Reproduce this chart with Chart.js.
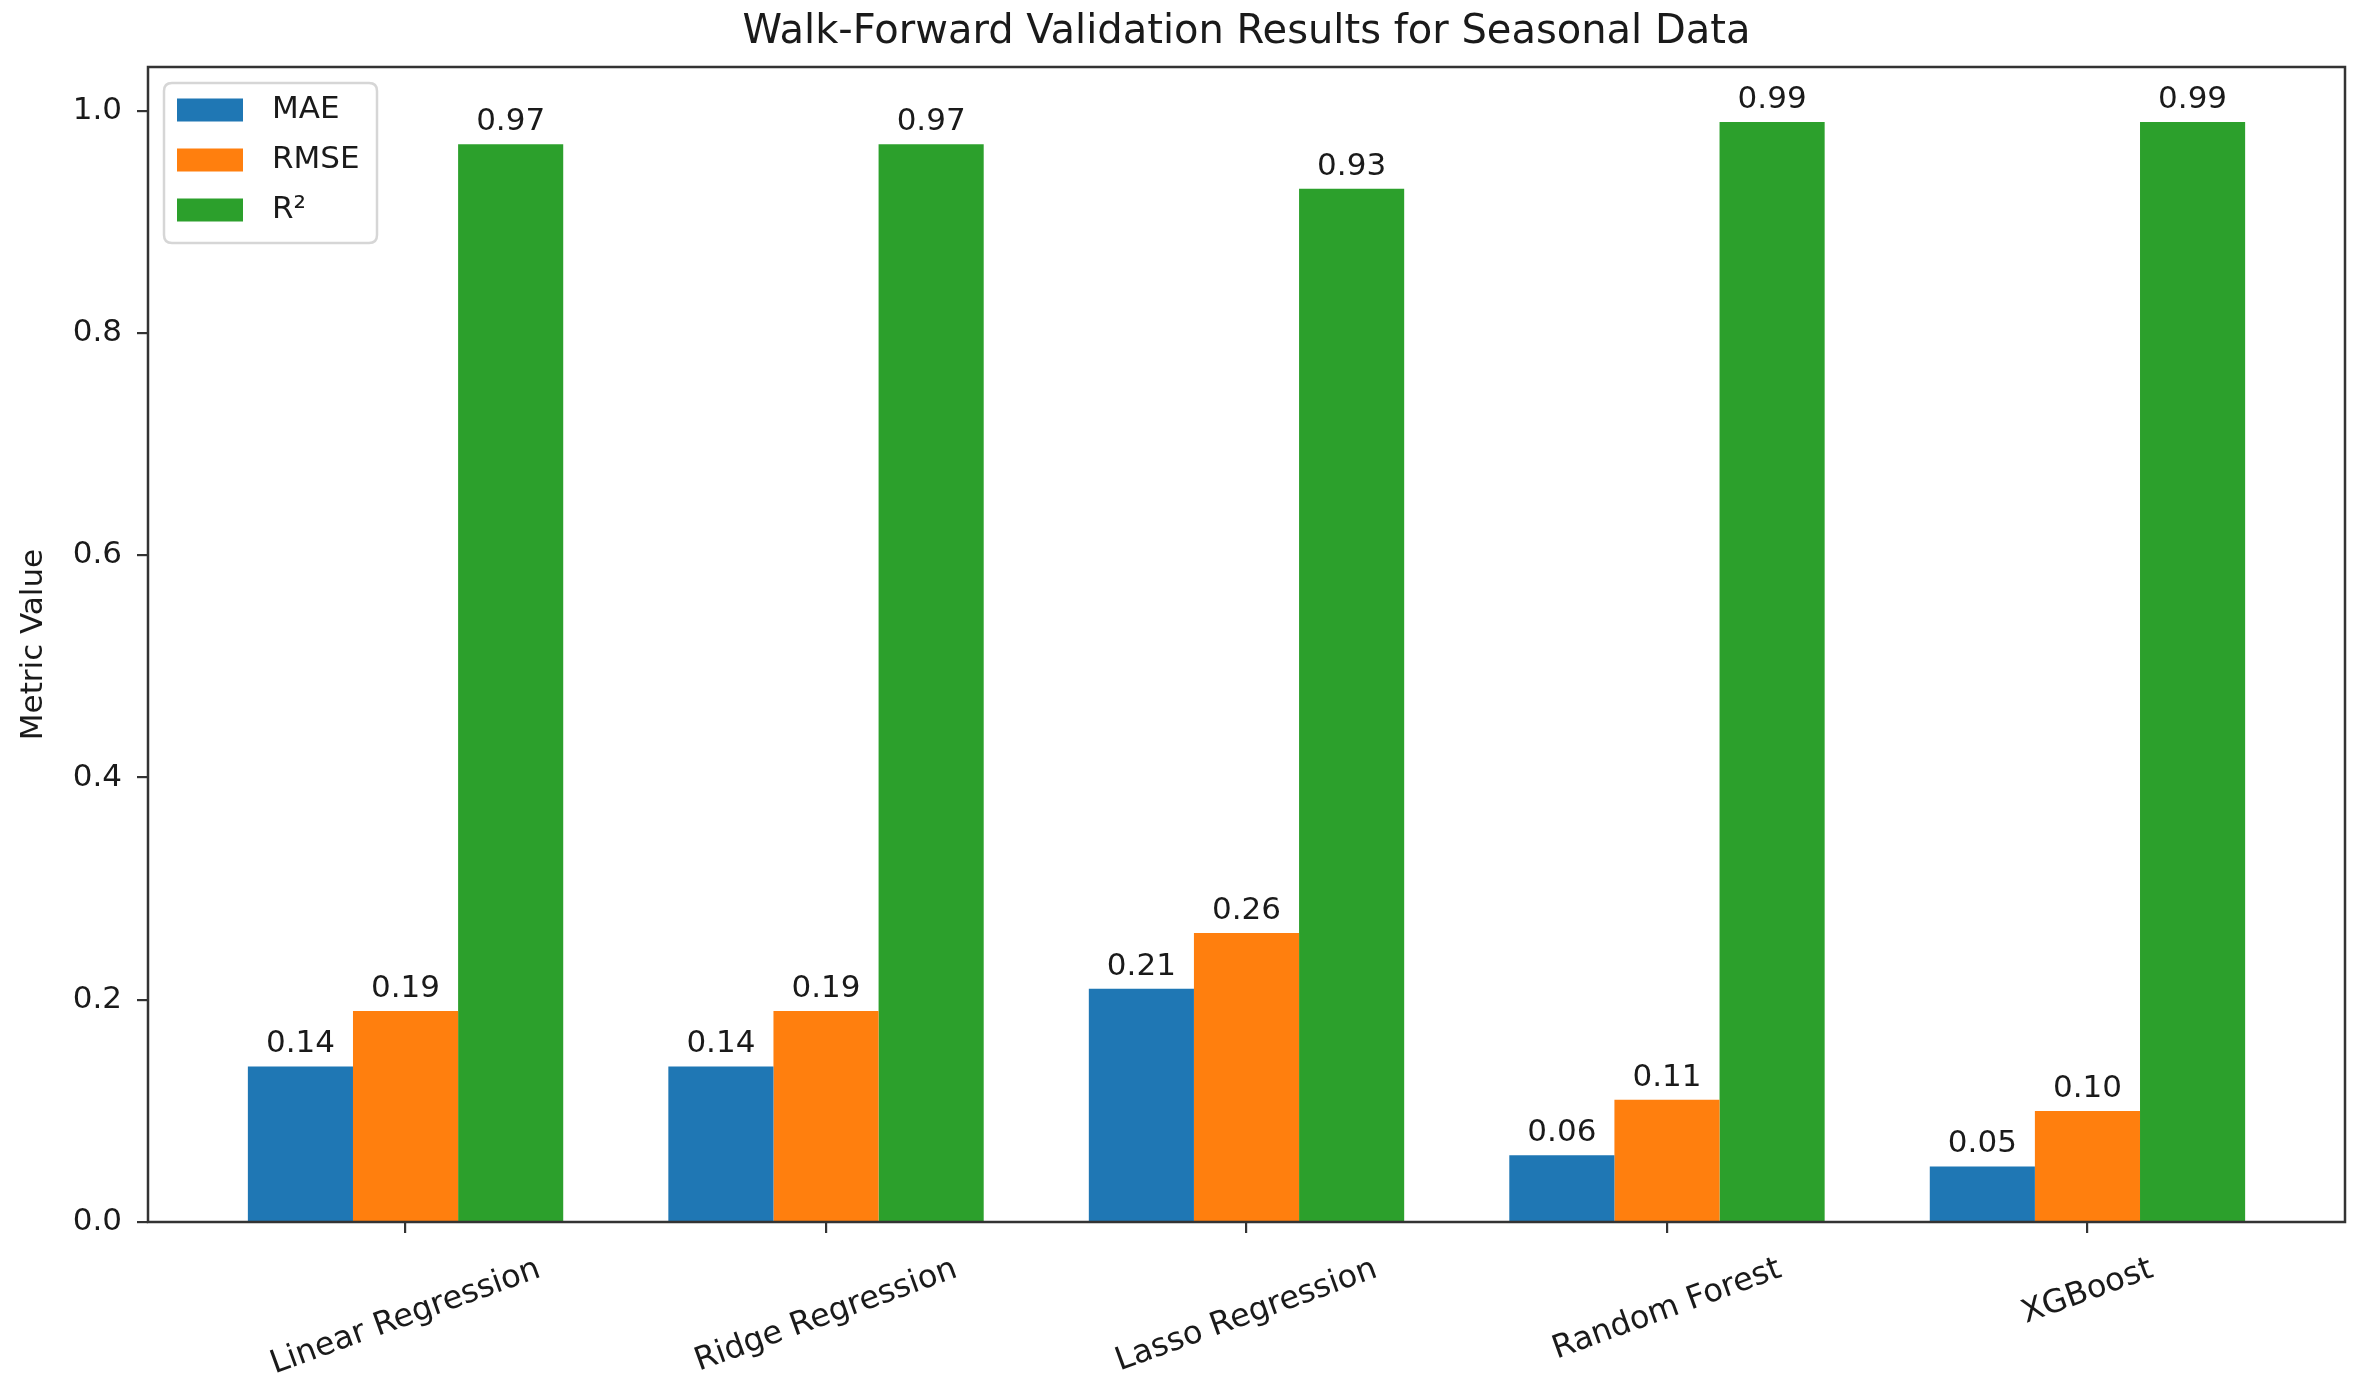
<!DOCTYPE html>
<html>
<head>
<meta charset="utf-8">
<script src="https://cdn.jsdelivr.net/npm/chart.js@4/dist/chart.umd.min.js"></script>
<style>
  html, body { margin: 0; padding: 0; background: #ffffff; }
  #wrap { width: 2375px; height: 1392px; position: relative; }
</style>
</head>
<body>
<div id="wrap"><canvas id="c"></canvas></div>
<script>
// ---- data ----
const categories = ['Linear Regression', 'Ridge Regression', 'Lasso Regression', 'Random Forest', 'XGBoost'];
const seriesNames = ['MAE', 'RMSE', 'R²'];
const maeValues  = [0.14, 0.14, 0.21, 0.06, 0.05];
const rmseValues = [0.19, 0.19, 0.26, 0.11, 0.10];
const r2Values   = [0.97, 0.97, 0.93, 0.99, 0.99];
const yTickValues = [0.0, 0.2, 0.4, 0.6, 0.8, 1.0];

// ---- styles ----
const colors = ['#1f77b4', '#ff7f0e', '#2ca02c'];
const FONT = 'DejaVu Sans';
const TXT = '#1a1a1a';
const AX = '#333333';

// matplotlib-like autoscale limits
const groupHalf = 0.375;
const xSpan = (categories.length - 1) + 2 * groupHalf;
const xMargin = 0.05 * xSpan;
const xMin = -groupHalf - xMargin;
const xMax = (categories.length - 1) + groupHalf + xMargin;
const yMax = Math.max(...maeValues, ...rmseValues, ...r2Values) * 1.05;

const toPoints = arr => arr.map((v, i) => ({ x: i, y: v }));

const valueLabels = {
  id: 'valueLabels',
  afterDatasetsDraw(chart) {
    const ctx = chart.ctx;
    ctx.save();
    ctx.font = `31px "${FONT}"`;
    ctx.fillStyle = TXT;
    ctx.textAlign = 'center';
    ctx.textBaseline = 'alphabetic';
    chart.data.datasets.forEach((ds, di) => {
      const meta = chart.getDatasetMeta(di);
      meta.data.forEach((el, i) => {
        ctx.fillText(ds.data[i].y.toFixed(2), el.x, el.y - 14);
      });
    });
    ctx.restore();
  }
};

const frameAndLabels = {
  id: 'frameAndLabels',
  afterDraw(chart) {
    const ctx = chart.ctx;
    const a = chart.chartArea;
    ctx.save();
    // spines
    ctx.strokeStyle = AX;
    ctx.lineWidth = 2.5;
    ctx.strokeRect(a.left, a.top, a.right - a.left, a.bottom - a.top);

    // rotated category labels (centered like matplotlib, rotation 20deg)
    const xs = chart.scales.x;
    const rot = 20 * Math.PI / 180;
    ctx.font = `32px "${FONT}"`;
    ctx.fillStyle = TXT;
    ctx.textAlign = 'center';
    ctx.textBaseline = 'middle';
    categories.forEach((lab, i) => {
      const px = xs.getPixelForValue(i);
      const w = ctx.measureText(lab).width;
      const h = 32 * 1.16;
      const bboxH = w * Math.sin(rot) + h * Math.cos(rot);
      const cy = a.bottom + 29 + bboxH / 2;
      ctx.save();
      ctx.translate(px, cy);
      ctx.rotate(-rot);
      ctx.fillText(lab, 0, 0);
      ctx.restore();
    });

    // legend (upper left inside axes)
    const lx = a.left + 16, ly = a.top + 16, lw = 213, lh = 160, r = 8;
    ctx.beginPath();
    ctx.moveTo(lx + r, ly);
    ctx.lineTo(lx + lw - r, ly);
    ctx.quadraticCurveTo(lx + lw, ly, lx + lw, ly + r);
    ctx.lineTo(lx + lw, ly + lh - r);
    ctx.quadraticCurveTo(lx + lw, ly + lh, lx + lw - r, ly + lh);
    ctx.lineTo(lx + r, ly + lh);
    ctx.quadraticCurveTo(lx, ly + lh, lx, ly + lh - r);
    ctx.lineTo(lx, ly + r);
    ctx.quadraticCurveTo(lx, ly, lx + r, ly);
    ctx.closePath();
    ctx.fillStyle = 'rgba(255,255,255,0.8)';
    ctx.fill();
    ctx.strokeStyle = '#d6d6d6';
    ctx.lineWidth = 2.5;
    ctx.stroke();
    ctx.font = `31px "${FONT}"`;
    ctx.textAlign = 'left';
    ctx.textBaseline = 'middle';
    chart.data.datasets.forEach((ds, i) => {
      const cy = ly + 27 + i * 50;
      ctx.fillStyle = ds.backgroundColor;
      ctx.fillRect(lx + 13, cy - 11.5, 66, 23);
      ctx.fillStyle = TXT;
      ctx.fillText(ds.label, lx + 108, cy);
    });
    ctx.restore();
  }
};

Chart.defaults.font.family = FONT;
Chart.defaults.color = TXT;

new Chart(document.getElementById('c'), {
  type: 'bar',
  data: {
    datasets: [
      { label: seriesNames[0], data: toPoints(maeValues),  backgroundColor: colors[0], borderWidth: 0 },
      { label: seriesNames[1], data: toPoints(rmseValues), backgroundColor: colors[1], borderWidth: 0 },
      { label: seriesNames[2], data: toPoints(r2Values),   backgroundColor: colors[2], borderWidth: 0 }
    ]
  },
  options: {
    responsive: true,
    maintainAspectRatio: false,
    animation: false,
    devicePixelRatio: 1,
    datasets: { bar: { categoryPercentage: 0.75, barPercentage: 1.0 } },
    layout: { padding: { left: 0, right: 30, top: 0, bottom: 0 } },
    plugins: {
      legend: { display: false },
      tooltip: { enabled: false },
      title: {
        display: true,
        text: 'Walk-Forward Validation Results for Seasonal Data',
        fullSize: false,
        color: TXT,
        font: { family: FONT, size: 40, weight: 'normal', lineHeight: 1.2 },
        padding: { top: 9, bottom: 10 }
      }
    },
    scales: {
      x: {
        type: 'linear',
        min: xMin,
        max: xMax,
        offset: false,
        afterBuildTicks: (s) => { s.ticks = categories.map((c, i) => ({ value: i })); },
        afterFit: (s) => { s.height = 170; },
        ticks: { display: false },
        grid: { display: true, offset: false, drawOnChartArea: false, drawTicks: true, tickLength: 11, color: AX, lineWidth: 2.2 },
        border: { display: false }
      },
      y: {
        type: 'linear',
        min: 0,
        max: yMax,
        afterBuildTicks: (s) => { s.ticks = yTickValues.map(v => ({ value: v })); },
        afterFit: (s) => { s.width = 148; },
        ticks: {
          padding: 15,
          color: TXT,
          font: { family: FONT, size: 31 },
          callback: (v) => Number(v).toFixed(1)
        },
        grid: { display: true, offset: false, drawOnChartArea: false, drawTicks: true, tickLength: 11, color: AX, lineWidth: 2.2 },
        border: { display: false },
        title: {
          display: true,
          text: 'Metric Value',
          color: TXT,
          font: { family: FONT, size: 31, lineHeight: 1.2 },
          padding: { top: 15, bottom: 0 }
        }
      }
    }
  },
  plugins: [valueLabels, frameAndLabels]
});
</script>
</body>
</html>
